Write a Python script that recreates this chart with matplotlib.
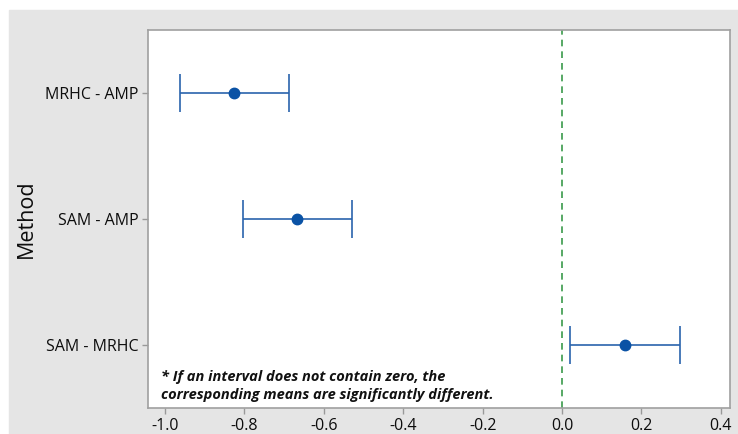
import numpy as np
import matplotlib.pyplot as plt

plt.rcParams['font.family'] = ['Open Sans', 'DejaVu Sans']

# Tukey simultaneous 95% CIs, difference of means
methods = ["MRHC - AMP", "SAM - AMP", "SAM - MRHC"]
diff = [-0.826, -0.667, 0.158]
lower = [-0.962, -0.804, 0.020]
upper = [-0.688, -0.529, 0.297]
xticks = [-1.0, -0.8, -0.6, -0.4, -0.2, 0.0, 0.2, 0.4]

fig = plt.figure(figsize=(7.38, 4.34), dpi=100)
fig.patch.set_facecolor('white')
# gray panel behind the plot (Minitab style)
fig.patches.append(plt.Rectangle((9 / 738, 0), 1 - 9 / 738, 1 - 10 / 434,
                                 transform=fig.transFigure, color='#e5e5e5',
                                 zorder=-1))
ax = fig.add_axes([148 / 738, 1 - 408 / 434, (730 - 148) / 738, (408 - 30) / 434])

y = np.arange(1, len(methods) + 1)
d = np.array(diff)
err = [d - np.array(lower), np.array(upper) - d]
ax.errorbar(d, y, xerr=err, fmt='none', ecolor='#2a64ad', elinewidth=1.2,
            capsize=14, capthick=1.2)
ax.plot(d, y, 'o', color='#0a52a5', markersize=7.5)
ax.axvline(0, color='#3a9a4a', ls=(0, (4, 3)), lw=1.2)

ax.set_xlim(-1.043, 0.423)
ax.set_ylim(3.5, 0.5)
ax.set_xticks(xticks)
ax.set_xticklabels([f"{v:.1f}" for v in xticks])
ax.set_yticks(y)
ax.set_yticklabels(methods)
ax.tick_params(axis='both', colors='#999999', labelcolor='#0d0d0d',
               labelsize=11.5, length=4, width=1, pad=3)
for s in ax.spines.values():
    s.set_color('#a0a0a0')
    s.set_linewidth(1.2)
ax.set_ylabel("Method", fontsize=15.5, color='#0d0d0d', labelpad=6)

ax.text(0.022, 0.015,
        "* If an interval does not contain zero, the\ncorresponding means are significantly different.",
        transform=ax.transAxes, fontsize=10.5, fontweight='bold', style='italic',
        color='#111111', va='bottom', linespacing=1.35)

fig.savefig("out.png", dpi=100, facecolor=fig.get_facecolor())
